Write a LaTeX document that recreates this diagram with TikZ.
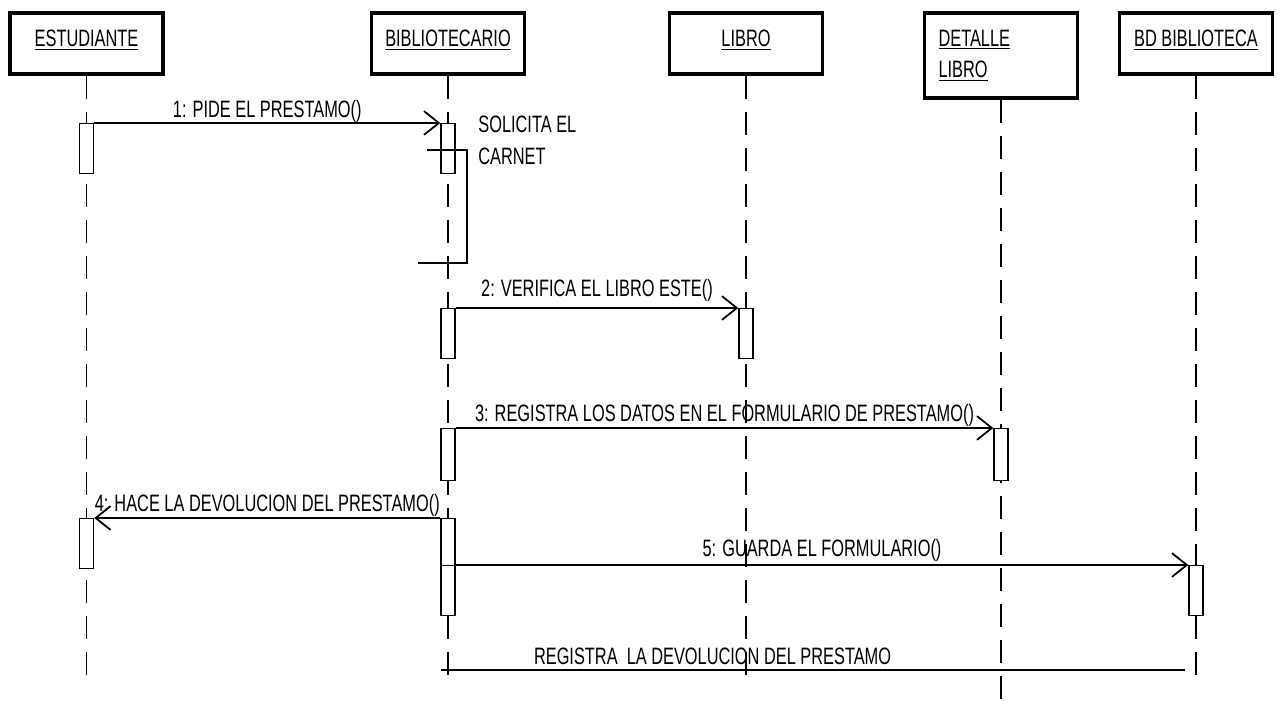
\documentclass[tikz,border=0pt]{standalone}
\usepackage{fontspec}
\setmainfont{Liberation Sans}[FakeStretch=0.69]
\usepackage{tikz}
\usetikzlibrary{arrows.meta,positioning,calc}
\definecolor{ink}{HTML}{000000}
\tikzset{
  objbox/.style={rectangle, draw=ink, line width=2pt, fill=white,
    minimum width=3.06cm, minimum height=1.22cm,
    font=\fontsize{13.5}{17.6}\selectfont, align=center, inner sep=2pt},
  onebox/.style={objbox, text depth=0.22cm},
  actbox/.style={rectangle, draw=ink, line width=0.8pt, fill=white,
    minimum width=0.28cm, minimum height=#1, inner sep=0pt, anchor=north},
  actbox/.default=1cm,
  lifeline/.style={draw=ink, line width=0.8pt, dash pattern=on 0.46cm off 0.26cm},
  msgarrow/.style={-{Straight Barb[length=8.5pt,width=13.5pt]}, line width=1pt, draw=ink},
  msgline/.style={line width=1pt, draw=ink},
  msglabel/.style={font=\fontsize{13.5}{16}\selectfont, inner sep=0pt, text depth=2.5pt},
}
\begin{document}
\begin{tikzpicture}[x=0.02cm, y=-0.02cm]
  \useasboundingbox (0,0) rectangle (1282,702);
  \node[onebox] (est) at (86.5,43.5) {\underline{ESTUDIANTE}};
  \node[onebox] (bib) at (448,43.5) {\underline{BIBLIOTECARIO}};
  \node[onebox] (lib) at (746,43.5) {\underline{LIBRO}};
  \node[objbox, minimum height=1.7cm, align=left, text width=2.5cm] (det) at (1001,55.5) {\underline{DETALLE}\\\underline{LIBRO}};
  \node[onebox] (bdb) at (1196,43.5) {\underline{BD BIBLIOTECA}};
  \coordinate (est-end) at (86.5,686);
  \coordinate (bib-end) at (448,686);
  \coordinate (lib-end) at (746,686);
  \coordinate (det-end) at (1001,702);
  \coordinate (bdb-end) at (1196,686);
  \foreach \o in {est,bib,lib,det,bdb} { \draw[lifeline] (\o.south) -- (\o-end); }
  \node[actbox] at (86.5,123) (est-a1) {};
  \node[actbox] at (448,123) (bib-a1) {};
  \node[actbox] at (448,308) (bib-a2) {};
  \node[actbox] at (746,308) (lib-a1) {};
  \node[actbox=1.04cm] at (448,428) (bib-a3) {};
  \node[actbox=1.04cm] at (1001,428) (det-a1) {};
  \node[actbox] at (86.5,518) (est-a2) {};
  \node[actbox=0.94cm] at (448,518) (bib-a4) {};
  \node[actbox] at (448,565) (bib-a5) {};
  \node[actbox] at (1196,565) (bdb-a1) {};
  \draw[msgarrow] (est-a1.north east) -- node[msglabel, above=0pt] (m1) {1: PIDE EL PRESTAMO()} (bib-a1.north west);
  \coordinate (sol-a) at (427,150);
  \coordinate (sol-b) at (467,150);
  \coordinate (sol-c) at (467,263);
  \coordinate (sol-d) at (418,263);
  \draw[msgline] (sol-a) -- (sol-b) -- (sol-c) -- (sol-d);
  \node[msglabel, anchor=north west, align=left, font=\fontsize{13.5}{18}\selectfont] at (478,116) (sol) {SOLICITA EL\\CARNET};
  \draw[msgarrow] (bib-a2.north east) -- node[msglabel, above=3.7pt] (m2) {2: VERIFICA EL LIBRO ESTE()} (lib-a1.north west);
  \draw[msgarrow] (bib-a3.north east) -- node[msglabel, above=0.9pt] (m3) {3: REGISTRA LOS DATOS EN EL FORMULARIO DE PRESTAMO()} (det-a1.north west);
  \draw[msgarrow] (bib-a4.north west) -- node[msglabel, above=0.9pt] (m4) {4: HACE LA DEVOLUCION DEL PRESTAMO()} (est-a2.north east);
  \draw[msgarrow] (bib-a5.north east) -- node[msglabel, above=2pt] (m5) {5: GUARDA EL FORMULARIO()} (bdb-a1.north west);
  \coordinate (reg-a) at (441,670);
  \coordinate (reg-b) at (1185,670);
  \draw[msgline] (reg-a) -- node[msglabel, above=0.3pt, pos=0.365] (m6) {REGISTRA\ \ LA DEVOLUCION DEL PRESTAMO} (reg-b);
\end{tikzpicture}
\end{document}
